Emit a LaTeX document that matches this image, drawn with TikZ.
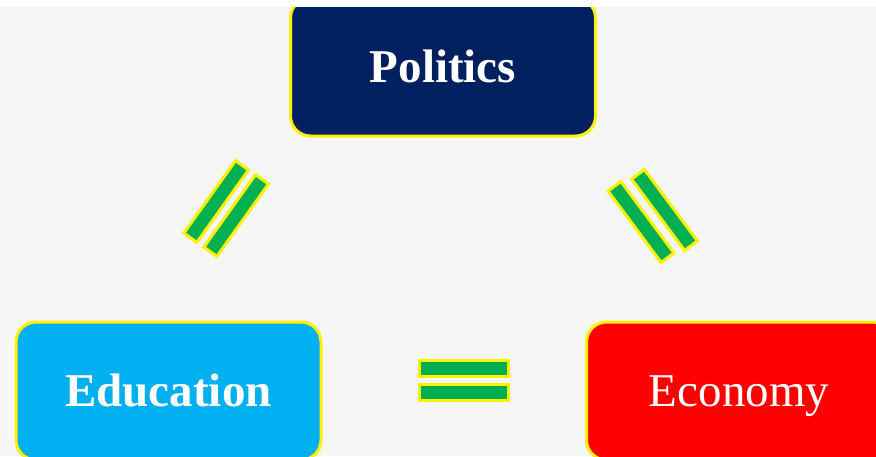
\documentclass[tikz,border=0pt]{standalone}
\usepackage{fontspec}
\setmainfont{Liberation Serif}
\definecolor{paper}{RGB}{246,246,246}
\definecolor{navybox}{RGB}{0,32,96}
\definecolor{skybox}{RGB}{0,176,240}
\definecolor{barfill}{RGB}{0,176,80}
\begin{document}
\begin{tikzpicture}[x=1pt,y=-1pt,
      topic/.style={draw=yellow,line width=3pt,rounded corners=20pt,
        minimum width=305pt,minimum height=138pt,text=white,
        font=\fontsize{47}{56}\selectfont,text height=31pt,text depth=0pt},
      eqbar/.style={draw=yellow,fill=barfill,line width=3pt,
        minimum width=89pt,minimum height=16pt,inner sep=0pt}]
      \useasboundingbox (0,0) rectangle (876,456);
      \fill[paper] (0,0) rectangle (876,456);
      \clip (0,0) rectangle (876,456);
      \node[topic,fill=navybox] (politics) at (443,67) {\bfseries Politics};
      \node[topic,fill=skybox] (education) at (168.5,391) {\bfseries Education};
      \node[topic,fill=red] (economy) at (739,391) {Economy};
      \fill[white] (0,0) rectangle (876,7);
      % equal signs
      \node[eqbar,rotate=54.5] (leftbarA) at (216.2,201.5) {};
      \node[eqbar,rotate=54.5] (leftbarB) at (236.2,215.5) {};
      \node[eqbar,rotate=-53.4] (rightbarA) at (641,222) {};
      \node[eqbar,rotate=-53.4] (rightbarB) at (664.5,210) {};
      \node[eqbar] (lowbarA) at (463.5,368.5) {};
      \node[eqbar] (lowbarB) at (463.5,392.5) {};
\end{tikzpicture}
\end{document}
